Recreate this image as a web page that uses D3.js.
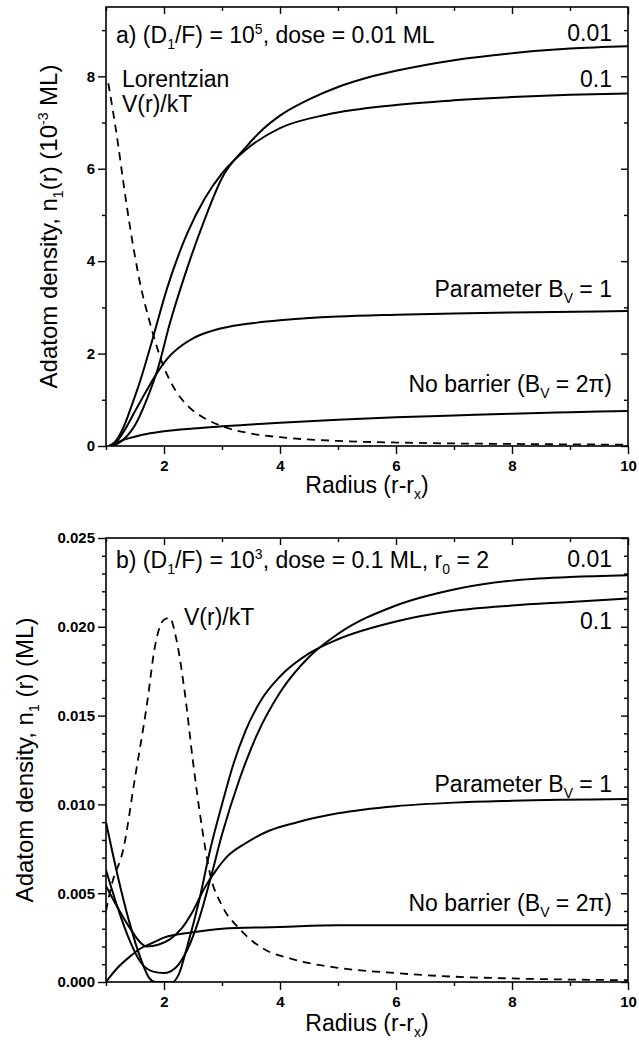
<!DOCTYPE html>
<html>
<head>
<meta charset="utf-8">
<script src="https://cdnjs.cloudflare.com/ajax/libs/d3/7.8.5/d3.min.js"></script>
<style>
  body { margin: 0; background: #fff; }
  svg { display: block; font-family: "Liberation Sans", Arial, sans-serif; }
  .frame { fill: none; stroke: #000; stroke-width: 1.6; }
  .tick text { font-size: 15px; font-weight: bold; fill: #000; }
  .axis path, .axis line { stroke: #000; stroke-width: 1.4; }
  .curve { fill: none; stroke: #000; stroke-width: 2; }
  .dash { stroke-dasharray: 8 6; stroke-width: 1.8; }
  .lbl { font-size: 23px; fill: #000; }
</style>
</head>
<body>
<div id="chart"></div>
<script>
// shared x axis
var xTicks = [2, 4, 6, 8, 10];
var xMinor = [1, 3, 5, 7, 9];

// ---- panel a (units 1e-3 ML) ----
var topYTicks = [0, 2, 4, 6, 8];
var topYMinor = [1, 3, 5, 7, 9];
var topDose001 = [[1.08,0],[1.2,0.05],[1.35,0.2],[1.5,0.45],[1.7,1.0],[1.9,1.7],[2.1,2.65],[2.4,3.85],[2.7,4.9],[3.0,5.8],[3.4,6.45],[3.7,6.85],[4.0,7.15],[4.5,7.5],[5,7.77],[5.5,7.97],[6,8.12],[7,8.35],[8,8.5],[9,8.6],[10,8.65]];
var topDose01 = [[1.05,0],[1.15,0.08],[1.3,0.4],[1.45,0.9],[1.6,1.45],[1.8,2.3],[2.05,3.4],[2.4,4.6],[2.7,5.35],[3.0,5.9],[3.4,6.4],[4.0,6.88],[4.8,7.17],[6,7.38],[7,7.48],[8,7.55],[9,7.6],[10,7.63]];
var topBv1 = [[1.05,0],[1.15,0.05],[1.3,0.3],[1.5,0.75],[1.7,1.2],[1.9,1.62],[2.1,1.95],[2.3,2.17],[2.5,2.33],[2.8,2.48],[3.2,2.6],[3.6,2.67],[4,2.72],[5,2.8],[6,2.84],[7,2.87],[8,2.89],[10,2.92]];
var topNoBarrier = [[1.08,0],[1.2,0.08],[1.4,0.17],[1.7,0.26],[2,0.32],[2.5,0.38],[3,0.425],[3.5,0.465],[4,0.505],[5,0.57],[6,0.62],[7,0.66],[8,0.7],[9,0.73],[10,0.76]];
var topLorentz = [[1.04,7.85],[1.1,7.4],[1.2,6.6],[1.3,5.7],[1.4,4.85],[1.5,4.1],[1.6,3.45],[1.75,2.7],[2.0,1.7],[2.2,1.2],[2.4,0.88],[2.7,0.6],[3.0,0.43],[3.5,0.27],[4,0.19],[5,0.11],[6,0.075],[7,0.055],[8,0.045],[9,0.035],[10,0.03]];

// ---- panel b (units ML) ----
var botYTicks = [0, 0.005, 0.010, 0.015, 0.020, 0.025];
var botYMinor = [0.001,0.002,0.003,0.004,0.006,0.007,0.008,0.009,0.011,0.012,0.013,0.014,0.016,0.017,0.018,0.019,0.021,0.022,0.023,0.024];
var botDose001 = [[1,0.0063],[1.2,0.0042],[1.4,0.0024],[1.6,0.0011],[1.8,0.0006],[2.0,0.0005],[2.2,0.0008],[2.4,0.0018],[2.6,0.0035],[2.8,0.0058],[3.0,0.0083],[3.3,0.0114],[3.6,0.0139],[4.0,0.0163],[4.5,0.0183],[5,0.0196],[6,0.0212],[7,0.0221],[8,0.0226],[9,0.0228],[10,0.0229]];
var botDose01 = [[1,0.0090],[1.2,0.0060],[1.4,0.0034],[1.6,0.0013],[1.75,0.0002],[1.85,0],[2.15,0],[2.25,0.0004],[2.4,0.0020],[2.6,0.0045],[2.8,0.0075],[3.0,0.0100],[3.2,0.0123],[3.4,0.0141],[3.7,0.0160],[4.0,0.0172],[4.5,0.0185],[5,0.0193],[6,0.0203],[7,0.0209],[8,0.0212],[9,0.0214],[10,0.0216]];
var botBv1 = [[1,0.0054],[1.2,0.0042],[1.4,0.0031],[1.6,0.0022],[1.7,0.0020],[1.9,0.0021],[2.1,0.0024],[2.3,0.0030],[2.5,0.0040],[2.7,0.0053],[2.9,0.0063],[3.1,0.0071],[3.4,0.0078],[3.8,0.0085],[4.3,0.0090],[5,0.0095],[6,0.0099],[7,0.0101],[8,0.0102],[10,0.0103]];
var botNoBarrier = [[1,0],[1.2,0.0008],[1.4,0.0014],[1.6,0.0019],[1.8,0.0022],[2,0.0025],[2.5,0.0028],[3,0.0030],[4,0.0031],[5,0.0032],[10,0.0032]];
var botV = [[1.0,0.0040],[1.1,0.0055],[1.3,0.0075],[1.5,0.0115],[1.7,0.0155],[1.85,0.0190],[2.0,0.0204],[2.1,0.0205],[2.2,0.0195],[2.35,0.0165],[2.5,0.0124],[2.65,0.0088],[2.8,0.0060],[3.0,0.0043],[3.3,0.0030],[3.7,0.0019],[4.2,0.0013],[5,0.0008],[6,0.0005],[7,0.0003],[8,0.0002],[10,0.0001]];

var W = 639, H = 1040;
var svg = d3.select("#chart").append("svg").attr("width", W).attr("height", H);

// text made of pieces: [str] normal, [str,"sub"], [str,"sup"]
function rich(sel, parts) {
  var shift = 0;
  parts.forEach(function(p) {
    var want = p[1] == "sub" ? 6 : (p[1] == "sup" ? -9 : 0);
    var s = sel.append("tspan").attr("dy", want - shift).text(p[0]);
    if (p[1]) s.style("font-size", "14px");
    shift = want;
  });
  return sel;
}

function label(g, x, y, parts, anchor) {
  var t = g.append("text").attr("class", "lbl").attr("x", x).attr("y", y)
    .attr("text-anchor", anchor || "start");
  return rich(t, parts);
}

function drawPanel(cfg) {
  var x = d3.scaleLinear().domain([1, 10]).range([106, 628]);
  var y = d3.scaleLinear().domain(cfg.yDomain).range([cfg.bottom, cfg.top]);
  var g = svg.append("g");
  var clipId = "clip" + cfg.id;
  g.append("clipPath").attr("id", clipId).append("rect")
    .attr("x", x(1)).attr("y", cfg.top).attr("width", x(10) - x(1)).attr("height", cfg.bottom - cfg.top);

  function noDomain(a) { a.select(".domain").remove(); }

  // outward ticks bottom / left
  g.append("g").attr("class", "axis").attr("transform", "translate(0," + cfg.bottom + ")")
    .call(d3.axisBottom(x).tickValues(xTicks).tickSize(8))
    .call(noDomain).call(function(a) { a.selectAll("text").attr("dy", "0.9em"); });
  g.append("g").attr("class", "axis").attr("transform", "translate(0," + cfg.bottom + ")")
    .call(d3.axisBottom(x).tickValues(xMinor).tickSize(4).tickFormat("")).call(noDomain);
  g.append("g").attr("class", "axis").attr("transform", "translate(" + x(1) + ",0)")
    .call(d3.axisLeft(y).tickValues(cfg.yTicks).tickSize(8).tickFormat(cfg.fmt)).call(noDomain);
  g.append("g").attr("class", "axis").attr("transform", "translate(" + x(1) + ",0)")
    .call(d3.axisLeft(y).tickValues(cfg.yMinor).tickSize(4).tickFormat("")).call(noDomain);
  // mirrored inward ticks top / right
  g.append("g").attr("class", "axis").attr("transform", "translate(0," + cfg.top + ")")
    .call(d3.axisTop(x).tickValues(xTicks).tickSize(-7).tickFormat("")).call(noDomain);
  g.append("g").attr("class", "axis").attr("transform", "translate(0," + cfg.top + ")")
    .call(d3.axisTop(x).tickValues(xMinor).tickSize(-4).tickFormat("")).call(noDomain);
  g.append("g").attr("class", "axis").attr("transform", "translate(" + x(10) + ",0)")
    .call(d3.axisRight(y).tickValues(cfg.yTicks).tickSize(-7).tickFormat("")).call(noDomain);
  g.append("g").attr("class", "axis").attr("transform", "translate(" + x(10) + ",0)")
    .call(d3.axisRight(y).tickValues(cfg.yMinor).tickSize(-4).tickFormat("")).call(noDomain);

  g.append("rect").attr("class", "frame")
    .attr("x", x(1)).attr("y", cfg.top).attr("width", x(10) - x(1)).attr("height", cfg.bottom - cfg.top);

  var line = d3.line().x(function(d) { return x(d[0]); }).y(function(d) { return y(d[1]); })
    .curve(d3.curveMonotoneX);
  var cg = g.append("g").attr("clip-path", "url(#" + clipId + ")");
  cfg.solid.forEach(function(s) { cg.append("path").attr("class", "curve").attr("d", line(s)); });
  cg.append("path").attr("class", "curve dash").attr("d", line(cfg.dashed));

  // axis titles
  label(g, (x(1) + x(10)) / 2, cfg.bottom + cfg.xTitleDy, [["Radius (r-r"], ["x", "sub"], [")"]], "middle");
  var yt = g.append("text").attr("class", "lbl").style("font-size", "24px")
    .attr("transform", "translate(" + cfg.yTitleX + "," + ((cfg.top + cfg.bottom) / 2) + ") rotate(-90)")
    .attr("text-anchor", "middle");
  rich(yt, cfg.yTitle);

  cfg.labels(g);
}

var subV = [["V", "sub"]];

drawPanel({
  id: "a", top: 7, bottom: 446, yDomain: [0, 9.5],
  yTicks: topYTicks, yMinor: topYMinor, fmt: d3.format("d"),
  solid: [topDose001, topDose01, topBv1, topNoBarrier], dashed: topLorentz,
  yTitleX: 57, xTitleDy: 47,
  yTitle: [["Adatom density, n"], ["1", "sub"], ["(r) (10"], ["-3", "sup"], [" ML)"]],
  labels: function(g) {
    label(g, 116, 43, [["a) (D"], ["1", "sub"], ["/F) = 10"], ["5", "sup"], [", dose = 0.01 ML"]]);
    label(g, 612, 41, [["0.01"]], "end");
    label(g, 612, 87, [["0.1"]], "end");
    label(g, 122, 87, [["Lorentzian"]]);
    label(g, 122, 112, [["V(r)/kT"]]);
    label(g, 612, 297, [["Parameter B"]].concat(subV, [[" = 1"]]), "end");
    label(g, 612, 392, [["No barrier (B"]].concat(subV, [[" = 2\u03c0)"]]), "end");
  }
});

drawPanel({
  id: "b", top: 538, bottom: 982, yDomain: [0, 0.025],
  yTicks: botYTicks, yMinor: botYMinor, fmt: d3.format(".3f"),
  solid: [botDose001, botDose01, botBv1, botNoBarrier], dashed: botV,
  yTitleX: 33, xTitleDy: 49,
  yTitle: [["Adatom density, n"], ["1", "sub"], [" (r) (ML)"]],
  labels: function(g) {
    label(g, 116, 568, [["b) (D"], ["1", "sub"], ["/F) = 10"], ["3", "sup"], [", dose = 0.1 ML, r"], ["0", "sub"], [" = 2"]]);
    label(g, 612, 567, [["0.01"]], "end");
    label(g, 612, 629, [["0.1"]], "end");
    label(g, 184, 625, [["V(r)/kT"]]);
    label(g, 612, 792, [["Parameter B"]].concat(subV, [[" = 1"]]), "end");
    label(g, 612, 911, [["No barrier (B"]].concat(subV, [[" = 2\u03c0)"]]), "end");
  }
});
</script>
</body>
</html>
